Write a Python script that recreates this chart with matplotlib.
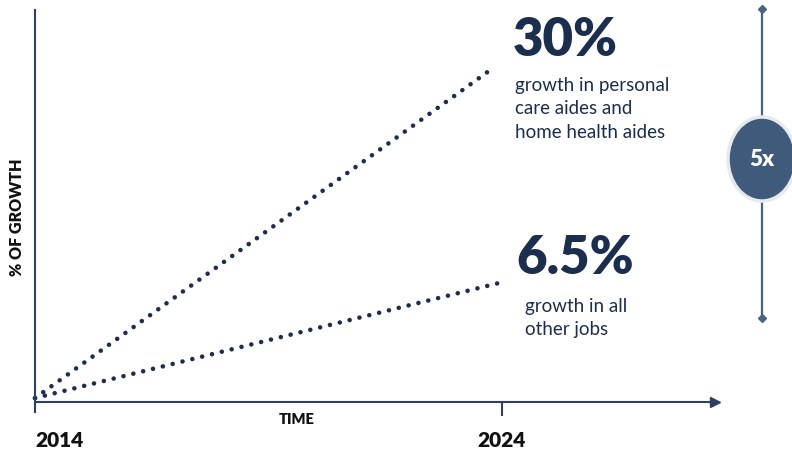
import matplotlib.pyplot as plt
from matplotlib.patches import Ellipse
from matplotlib.lines import Line2D

plt.rcParams['font.family'] = ['Lato', 'DejaVu Sans']

# data (line end heights, axis height = 100)
years = [2014, 2024]
care_x = [2014, 2023.75]
care_y = [1, 84.7]
other_x = [2014, 2023.95]
other_y = [1, 30.4]
big_labels = ['30%', '6.5%']
sub_labels = ['growth in personal\ncare aides and\nhome health aides', 'growth in all\nother jobs']
ratio_label = '5x'

navy = '#1c2e4d'
axis_col = '#2e4060'
W, H = 792, 451

fig = plt.figure(figsize=(W / 100, H / 100), dpi=100)


def fx(px):
    return px / W


def fy(py):
    return 1 - py / H


# main axes: origin at (35, 402) px, top at 10 px, right at 715 px
ax = fig.add_axes([fx(35), fy(402), fx(680), 392 / H])
ax.set_xlim(2014, 2014 + 680 / 46.7)
ax.set_ylim(0, 100)

# dotted growth lines
for xs, ys in [(care_x, care_y), (other_x, other_y)]:
    ax.plot(xs, ys, color=navy, lw=3.3, linestyle=(0, (0.01, 2.2)),
            dash_capstyle='round', clip_on=False)

for side in ['top', 'right']:
    ax.spines[side].set_visible(False)
for side in ['left', 'bottom']:
    ax.spines[side].set_color(axis_col)
    ax.spines[side].set_linewidth(1.5)
ax.spines['left'].set_bounds(-2.6, 100)

# arrow heads
ax.plot(1, 0, '>', color=axis_col, ms=7, transform=ax.get_yaxis_transform(), clip_on=False)
ax.plot(0, 1, '^', color=axis_col, ms=7, transform=ax.get_xaxis_transform(), clip_on=False)

ax.set_yticks([])
ax.set_xticks(years)
ax.set_xticklabels([str(y) for y in years], fontsize=15, fontweight='heavy', color='#111111')
ax.tick_params(axis='x', length=10, width=1.5, color=axis_col, pad=11)
ax.get_xticklabels()[0].set_horizontalalignment('left')
ax.xaxis.get_major_ticks()[0].tick1line.set_visible(False)

ax.text(0.385, -0.045, 'TIME', transform=ax.transAxes, fontsize=10.5, fontweight='heavy',
        color='#111111', ha='center', va='center')
fig.text(fx(17), fy(217), '% OF GROWTH', rotation=90, fontsize=11.5, fontweight='heavy',
         color='#111111', ha='center', va='center')

# annotations
fig.text(fx(513), fy(40), big_labels[0], fontsize=38, fontweight='heavy', color=navy,
         ha='left', va='center')
fig.text(fx(515), fy(109), sub_labels[0], fontsize=13.5, color=navy, ha='left', va='center',
         linespacing=1.45)
fig.text(fx(516), fy(259), big_labels[1], fontsize=38, fontweight='heavy', color=navy,
         ha='left', va='center')
fig.text(fx(525), fy(318), sub_labels[1], fontsize=13.5, color=navy, ha='left', va='center',
         linespacing=1.45)

# right side ratio bar
bar_col = '#4a6383'
fig.add_artist(Line2D([fx(762), fx(762)], [fy(9), fy(318)], color=bar_col, lw=1.6, zorder=2))
fig.add_artist(Line2D([fx(762), fx(762)], [fy(9), fy(318)], color=bar_col, lw=0,
                      marker='D', ms=4, zorder=2))
fig.add_artist(Ellipse((fx(762), fy(159)), fx(68), 84 / H, facecolor='#3f5a7a',
                       edgecolor='#e6eaef', lw=2.5, transform=fig.transFigure, zorder=3))
fig.text(fx(762), fy(159), ratio_label, fontsize=16, fontweight='heavy', color='white',
         ha='center', va='center', zorder=4)

fig.savefig('out.png', dpi=100)
